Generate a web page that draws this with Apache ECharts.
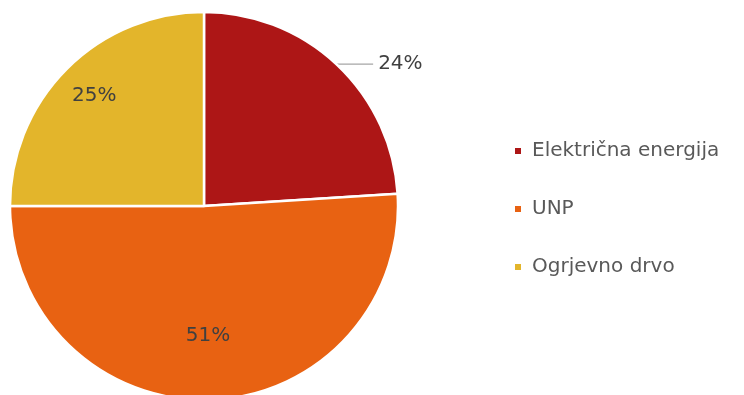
<!DOCTYPE html>
<html>
<head>
<meta charset="utf-8">
<script src="https://cdn.jsdelivr.net/npm/echarts@6/dist/echarts.min.js"></script>
<style>
  html, body { margin: 0; padding: 0; background: #fff; }
  #chart { width: 744px; height: 395px; }
</style>
</head>
<body>
<div id="chart"></div>
<script>
// Heating energy sources, share in percent
const categories = ['Električna energija', 'UNP', 'Ogrjevno drvo'];
const shares = [24, 51, 25];
const colors = ['#AD1616', '#E86212', '#E3B52B'];

// Radial position of the in-slice labels, as a fraction of the radius
const innerLabelRadius = [null, 0.67, 0.8];

const chart = echarts.init(document.getElementById('chart'), null, { renderer: 'canvas' });

const FONT = '"DejaVu Sans", "Noto Sans", sans-serif';

const data = categories.map((name, i) => {
  const item = {
    name: name,
    value: shares[i],
    itemStyle: { color: colors[i] }
  };
  if (innerLabelRadius[i] === null) {
    item.label = { position: 'outside' };
    item.labelLine = { show: true };
  } else {
    item.label = { position: 'inside' };
    item.labelLine = { show: false };
  }
  return item;
});

chart.setOption({
  animation: false,
  backgroundColor: '#ffffff',
  legend: {
    orient: 'vertical',
    left: 508,
    top: 135,
    icon: 'rect',
    itemWidth: 8,
    itemHeight: 8,
    itemGap: 36,
    data: categories,
    textStyle: {
      fontFamily: FONT,
      fontSize: 20,
      color: '#595959',
      lineHeight: 22,
      padding: [0, 0, 0, 5]
    }
  },
  series: [{
    type: 'pie',
    center: [204, 206],
    radius: 194,
    startAngle: 90,
    clockwise: true,
    avoidLabelOverlap: false,
    itemStyle: { borderColor: '#ffffff', borderWidth: 2.5 },
    label: {
      show: true,
      formatter: '{c}%',
      fontFamily: FONT,
      fontSize: 20,
      color: '#404040',
      distanceToLabelLine: 5
    },
    labelLine: {
      length: 0.5,
      length2: 36,
      smooth: false,
      lineStyle: { color: '#A6A6A6', width: 1.2 }
    },
    labelLayout: function (params) {
      const i = params.dataIndex;
      if (innerLabelRadius[i] === null) return {};
      const layout = chart.getModel().getSeriesByIndex(0).getData().getItemLayout(i);
      const mid = (layout.startAngle + layout.endAngle) / 2;
      const rr = layout.r * innerLabelRadius[i];
      return {
        x: layout.cx + Math.cos(mid) * rr,
        y: layout.cy + Math.sin(mid) * rr,
        align: 'center',
        verticalAlign: 'middle'
      };
    },
    emphasis: { disabled: true },
    data: data
  }]
});
</script>
</body>
</html>
